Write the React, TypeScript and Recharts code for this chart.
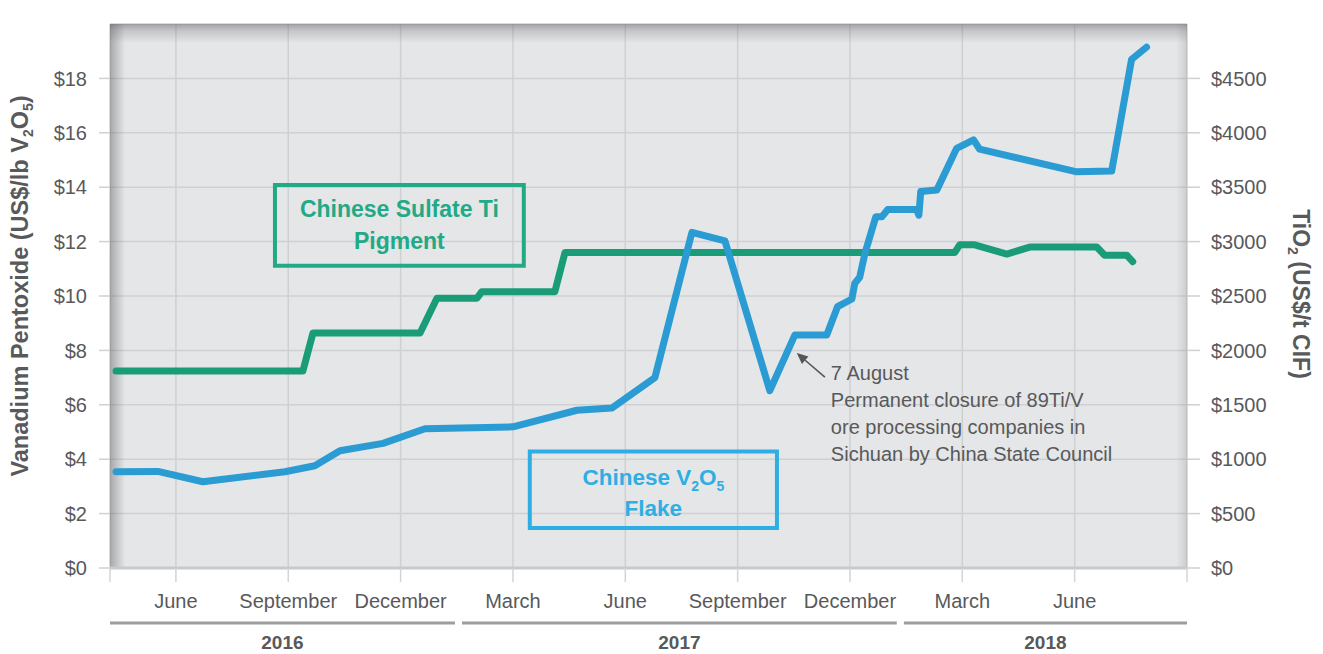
import React from 'react';
import {
  CartesianGrid,
  Line,
  LineChart,
  ReferenceArea,
  ReferenceLine,
  XAxis,
  YAxis,
} from 'recharts';

// months counted from 1 Jan 2016 (0 = Jan 2016, 12 = Jan 2017 ...)
const v2o5Months = [
  3.4, 4.52, 5.72, 7.91, 8.71, 9.38, 10.53, 11.65, 14.0, 15.71, 16.64, 17.79,
  18.78, 19.66, 20.86, 21.53, 22.38, 22.67, 23.05, 23.13, 23.26, 23.4, 23.69,
  23.85, 24.01, 24.78, 24.84, 24.89, 25.32, 25.85, 26.3, 26.46, 29.03, 29.99,
  30.52, 30.92,
];
const v2o5Prices = [
  3.54, 3.55, 3.17, 3.54, 3.76, 4.31, 4.58, 5.12, 5.19, 5.8, 5.88, 7.0, 12.34,
  12.03, 6.52, 8.57, 8.57, 9.61, 9.89, 10.47, 10.69, 11.57, 12.91, 12.91, 13.18,
  13.18, 12.97, 13.84, 13.9, 15.43, 15.74, 15.4, 14.57, 14.6, 18.7, 19.15,
];

const tio2Months = [
  3.4, 8.39, 8.66, 11.52, 11.97, 13.04, 13.17, 15.12, 15.39, 25.8, 25.93, 26.33,
  27.19, 27.8, 29.59, 29.8, 30.39, 30.55,
];
const tio2Prices = [
  1810, 1810, 2160, 2160, 2480, 2480, 2540, 2540, 2900, 2900, 2970, 2970, 2885,
  2950, 2950, 2875, 2875, 2815,
];

const monthTicks = [3.24, 5, 8, 11, 14, 17, 20, 23, 26, 29, 32];
const monthLabels = ['', 'June', 'September', 'December', 'March', 'June', 'September', 'December', 'March', 'June', ''];
const yearLabels = ['2016', '2017', '2018'];
const yearStart = [3.24, 12.64, 24.44];
const yearEnd = [12.45, 24.25, 32];
const leftTicks = [0, 2, 4, 6, 8, 10, 12, 14, 16, 18];
const rightTicks = [0, 500, 1000, 1500, 2000, 2500, 3000, 3500, 4000, 4500];
const noteLines = [
  '7 August',
  'Permanent closure of 89Ti/V',
  'ore processing companies in',
  'Sichuan by China State Council',
];

const v2o5Data = v2o5Months.map((m, i) => ({ m, v: v2o5Prices[i] }));
const tio2Data = tio2Months.map((m, i) => ({ m, v: tio2Prices[i] }));

const FONT = '"Liberation Sans", Arial, Helvetica, sans-serif';
const TEXT = '#58595b';
const BLUE = '#2a9bd3';
const GREEN = '#1b9c79';
const BOX_BLUE = '#2eaee2';
const BOX_GREEN = '#22a985';
const X_DOMAIN = [3.24, 32];

const LeftTitle = (props: any) => {
  const vb = props.viewBox || { x: 0, y: 24, width: 110, height: 544 };
  const cx = 28;
  const cy = vb.y + vb.height / 2 - 10;
  return (
    <text
      x={cx}
      y={cy}
      transform={`rotate(-90 ${cx} ${cy})`}
      textAnchor="middle"
      fill={TEXT}
      fontSize={23.5}
      fontWeight="bold"
      fontFamily={FONT}
    >
      Vanadium Pentoxide (US$/lb V
      <tspan fontSize={14} dy={5}>2</tspan>
      <tspan dy={-5}>O</tspan>
      <tspan fontSize={14} dy={5}>5</tspan>
      <tspan dy={-5}>)</tspan>
    </text>
  );
};

const RightTitle = (props: any) => {
  const vb = props.viewBox || { x: 1187, y: 24, width: 136, height: 544 };
  const cx = 1293;
  const cy = vb.y + vb.height / 2 - 2;
  return (
    <text
      x={cx}
      y={cy}
      transform={`rotate(90 ${cx} ${cy})`}
      textAnchor="middle"
      fill={TEXT}
      fontSize={23}
      fontWeight="bold"
      fontFamily={FONT}
    >
      TiO
      <tspan fontSize={14} dy={5}>2</tspan>
      <tspan dy={-5}> (US$/t CIF)</tspan>
    </text>
  );
};

const GreenBoxLabel = (props: any) => {
  const { x, y, width, height } = props.viewBox;
  const cx = x + width / 2;
  const cy = y + height / 2;
  return (
    <text x={cx} y={cy} textAnchor="middle" fill={BOX_GREEN} fontSize={23} fontWeight="bold" fontFamily={FONT}>
      <tspan x={cx} y={cy - 16 + 8}>Chinese Sulfate Ti</tspan>
      <tspan x={cx} y={cy + 16 + 8}>Pigment</tspan>
    </text>
  );
};

const BlueBoxLabel = (props: any) => {
  const { x, y, width, height } = props.viewBox;
  const cx = x + width / 2;
  const cy = y + height / 2;
  return (
    <g>
      <text x={cx} y={cy - 13 + 8} textAnchor="middle" fill={BOX_BLUE} fontSize={22.5} fontWeight="bold" fontFamily={FONT}>
        Chinese V<tspan fontSize={14} dy={6}>2</tspan>
        <tspan dy={-6}>O</tspan>
        <tspan fontSize={14} dy={6}>5</tspan>
      </text>
      <text x={cx} y={cy + 18 + 8} textAnchor="middle" fill={BOX_BLUE} fontSize={22.5} fontWeight="bold" fontFamily={FONT}>
        Flake
      </text>
    </g>
  );
};

const NoteLabel = (props: any) => {
  const { x, y } = props.viewBox;
  return (
    <text x={x} y={y + 20} fill={TEXT} fontSize={20} fontFamily={FONT}>
      {noteLines.map((t, i) => (
        <tspan key={i} x={x} dy={i === 0 ? 0 : 27}>
          {t}
        </tspan>
      ))}
    </text>
  );
};

const ArrowShape = (p: any) => {
  const { x1, y1, x2, y2 } = p;
  const a = Math.atan2(y2 - y1, x2 - x1);
  const len = 11;
  const w = 5;
  const bx = x2 - len * Math.cos(a);
  const by = y2 - len * Math.sin(a);
  const px = -Math.sin(a) * w;
  const py = Math.cos(a) * w;
  return (
    <g>
      <line x1={x1} y1={y1} x2={bx} y2={by} stroke="#555" strokeWidth={1.6} />
      <polygon points={`${x2},${y2} ${bx + px},${by + py} ${bx - px},${by - py}`} fill="#555" />
    </g>
  );
};

const YearLabel = (props: any) => {
  const { x, y, width } = props.viewBox;
  return (
    <text x={x + width / 2} y={y + 26} textAnchor="middle" fill={TEXT} fontSize={19} fontWeight="bold" fontFamily={FONT}>
      {props.text}
    </text>
  );
};

export default function App() {
  return (
    <div style={{ position: 'absolute', left: 0, top: 0, width: 1323, height: 654, background: '#fff' }}>
      <svg width={0} height={0} style={{ position: 'absolute' }}>
        <defs>
          <linearGradient id="vigTop" x1="0" y1="0" x2="0" y2="1">
            <stop offset="0" stopColor="#5f5f63" stopOpacity={0.5} />
            <stop offset="0.012" stopColor="#5f5f63" stopOpacity={0.25} />
            <stop offset="0.035" stopColor="#5f5f63" stopOpacity={0} />
          </linearGradient>
          <linearGradient id="vigLeft" x1="0" y1="0" x2="1" y2="0">
            <stop offset="0" stopColor="#5a5a5e" stopOpacity={0.45} />
            <stop offset="0.005" stopColor="#5a5a5e" stopOpacity={0.28} />
            <stop offset="0.014" stopColor="#5a5a5e" stopOpacity={0} />
          </linearGradient>
          <linearGradient id="vigRight" x1="0" y1="0" x2="1" y2="0">
            <stop offset="0.99" stopColor="#6a6a6e" stopOpacity={0} />
            <stop offset="0.996" stopColor="#6a6a6e" stopOpacity={0.12} />
            <stop offset="1" stopColor="#6a6a6e" stopOpacity={0.2} />
          </linearGradient>
        </defs>
      </svg>
      <LineChart width={1323} height={654} margin={{ top: 24, right: 0, bottom: 0, left: 0 }}>
        <CartesianGrid yAxisId="left" fill="#e5e6e8" stroke="#cfd0d2" strokeWidth={1.5} />
        <XAxis
          dataKey="m"
          type="number"
          domain={X_DOMAIN}
          ticks={monthTicks}
          interval={0}
          allowDataOverflow
          height={86}
          tickSize={14}
          tickMargin={12}
          tickLine={{ stroke: '#d3d4d6', strokeWidth: 1.5 }}
          axisLine={{ stroke: '#c8c9cb', strokeWidth: 3 }}
          tick={{ fill: TEXT, fontSize: 20, fontFamily: FONT }}
          tickFormatter={(v) => monthLabels[monthTicks.indexOf(v)] || ''}
        />
        <XAxis
          xAxisId="top"
          orientation="top"
          dataKey="m"
          type="number"
          domain={X_DOMAIN}
          ticks={monthTicks}
          interval={0}
          allowDataOverflow
          height={0}
          tickSize={13}
          tickLine={{ stroke: '#d3d4d6', strokeWidth: 1.5 }}
          axisLine={{ stroke: '#d2d3d5', strokeWidth: 2 }}
          tickFormatter={() => ''}
        />
        <YAxis
          yAxisId="left"
          domain={[0, 20]}
          ticks={leftTicks}
          interval={0}
          allowDataOverflow
          width={110}
          tickSize={11}
          tickMargin={12}
          axisLine={false}
          tickLine={{ stroke: '#cfd0d2', strokeWidth: 1.5 }}
          tick={{ fill: TEXT, fontSize: 20, fontFamily: FONT }}
          tickFormatter={(v) => `$${v}`}
          label={{ content: LeftTitle }}
        />
        <YAxis
          yAxisId="right"
          orientation="right"
          domain={[0, 5000]}
          ticks={rightTicks}
          interval={0}
          allowDataOverflow
          width={136}
          tickSize={13}
          tickMargin={11}
          axisLine={false}
          tickLine={{ stroke: '#cfd0d2', strokeWidth: 1.5 }}
          tick={{ fill: TEXT, fontSize: 20, fontFamily: FONT, textAnchor: 'start' }}
          tickFormatter={(v) => `$${v}`}
          label={{ content: RightTitle }}
        />
        <ReferenceArea yAxisId="left" x1={X_DOMAIN[0]} x2={X_DOMAIN[1]} y1={0} y2={20} fill="url(#vigTop)" fillOpacity={1} stroke="none" />
        <ReferenceArea yAxisId="left" x1={X_DOMAIN[0]} x2={X_DOMAIN[1]} y1={0} y2={20} fill="url(#vigLeft)" fillOpacity={1} stroke="none" />
        <ReferenceArea yAxisId="left" x1={X_DOMAIN[0]} x2={X_DOMAIN[1]} y1={0} y2={20} fill="url(#vigRight)" fillOpacity={1} stroke="none" />

        <ReferenceArea
          yAxisId="left"
          x1={7.645}
          x2={14.29}
          y1={11.11}
          y2={14.08}
          fill="none"
          stroke={BOX_GREEN}
          strokeWidth={4}
          label={{ content: GreenBoxLabel }}
        />
        <ReferenceArea
          yAxisId="left"
          x1={14.45}
          x2={21.05}
          y1={1.47}
          y2={4.28}
          fill="none"
          stroke={BOX_BLUE}
          strokeWidth={4}
          label={{ content: BlueBoxLabel }}
        />
        <ReferenceArea yAxisId="left" x1={22.49} x2={30.6} y1={3.5} y2={7.65} fill="none" stroke="none" label={{ content: NoteLabel }} />
        <ReferenceLine
          yAxisId="left"
          segment={[
            { x: 22.33, y: 7.02 },
            { x: 21.58, y: 7.9 },
          ]}
          shape={ArrowShape}
        />

        {yearLabels.map((yl, i) => (
          <ReferenceLine
            key={yl}
            yAxisId="left"
            ifOverflow="visible"
            segment={[
              { x: yearStart[i], y: -2.02 },
              { x: yearEnd[i], y: -2.02 },
            ]}
            stroke="#9c9d9f"
            strokeWidth={3}
            label={{ content: (p: any) => <YearLabel {...p} text={yl} /> }}
          />
        ))}

        <Line
          yAxisId="right"
          data={tio2Data}
          dataKey="v"
          type="linear"
          stroke={GREEN}
          strokeWidth={7}
          strokeLinecap="round"
          strokeLinejoin="round"
          dot={false}
          activeDot={false}
          isAnimationActive={false}
        />
        <Line
          yAxisId="left"
          data={v2o5Data}
          dataKey="v"
          type="linear"
          stroke={BLUE}
          strokeWidth={7}
          strokeLinecap="round"
          strokeLinejoin="round"
          dot={false}
          activeDot={false}
          isAnimationActive={false}
        />
      </LineChart>
    </div>
  );
}
